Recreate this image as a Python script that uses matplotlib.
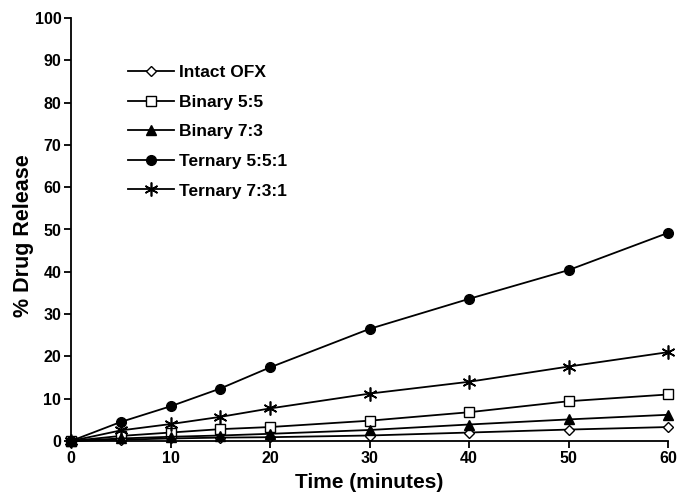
import matplotlib
matplotlib.use("Agg")
import matplotlib.pyplot as plt

time = [0, 5, 10, 15, 20, 30, 40, 50, 60]
intact_ofx = [0, 0.3, 0.6, 0.8, 0.9, 1.3, 2.0, 2.7, 3.3]
binary_55 = [0, 1.2, 2.0, 2.8, 3.3, 4.8, 6.8, 9.4, 11.0]
binary_73 = [0, 0.6, 1.0, 1.3, 1.7, 2.6, 3.9, 5.1, 6.2]
ternary_551 = [0, 4.5, 8.2, 12.4, 17.4, 26.5, 33.6, 40.4, 49.2]
ternary_731 = [0, 2.5, 4.0, 5.7, 7.7, 11.2, 14.0, 17.6, 21.0]

labels = ["Intact OFX", "Binary 5:5", "Binary 7:3", "Ternary 5:5:1", "Ternary 7:3:1"]
xticks = [0, 10, 20, 30, 40, 50, 60]
yticks = [0, 10, 20, 30, 40, 50, 60, 70, 80, 90, 100]

plt.rcParams['font.family'] = ['Liberation Sans', 'DejaVu Sans']
plt.rcParams['font.weight'] = 'bold'

fig = plt.figure(figsize=(6.79, 4.94), dpi=100)
ax = fig.add_axes([71/679, 53/494, 597/679, 423/494])

series = [intact_ofx, binary_55, binary_73, ternary_551, ternary_731]
styles = [
    dict(marker='D', markersize=5, markerfacecolor='white'),
    dict(marker='s', markersize=7, markerfacecolor='white'),
    dict(marker='^', markersize=7, markerfacecolor='black'),
    dict(marker='o', markersize=7, markerfacecolor='black'),
    dict(marker=(6, 2, 0), markersize=10, markerfacecolor='black', markeredgewidth=1.2),
]
for ys, lab, st in zip(series, labels, styles):
    kw = dict(color='black', linewidth=1.3, markeredgecolor='black', clip_on=False)
    kw.update(st)
    ax.plot(time, ys, label=lab, **kw)

ax.set_xlim(0, 60)
ax.set_ylim(0, 100)
ax.set_xticks(xticks)
ax.set_yticks(yticks)
ax.spines['top'].set_visible(False)
ax.spines['right'].set_visible(False)
for s in ['left', 'bottom']:
    ax.spines[s].set_linewidth(1.3)
ax.tick_params(direction='out', length=5, width=1.3, labelsize=11.5, pad=2)
for t in ax.get_xticklabels() + ax.get_yticklabels():
    t.set_fontweight('bold')

ax.set_xlabel("Time (minutes)", fontsize=15, fontweight='bold', labelpad=5)
ax.set_ylabel("% Drug Release", fontsize=15.5, fontweight='bold')
ax.yaxis.set_label_coords(-0.062, 0.485)

leg = ax.legend(loc='upper left', bbox_to_anchor=(0.0816, 0.909), frameon=False,
                fontsize=12.5, handlelength=2.6, labelspacing=0.83, handletextpad=0.3,
                borderpad=0)
for t in leg.get_texts():
    t.set_fontweight('bold')

fig.savefig("out.png", dpi=100)
